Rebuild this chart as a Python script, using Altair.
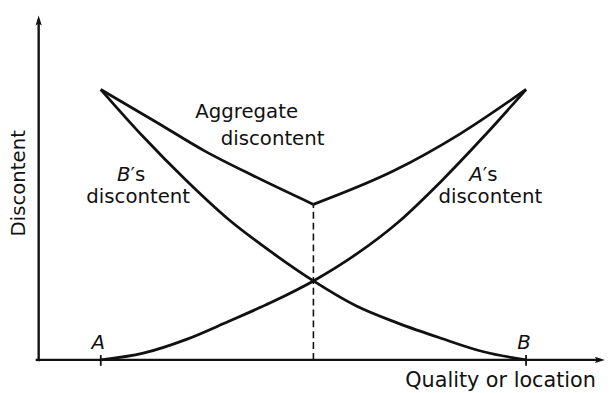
import altair as alt
import pandas as pd

# ---- data; quality axis: A = 0, B = 10; discontent: top = 10
q_pts = [0, 1, 2, 3, 4, 5, 6, 7, 8, 9, 10]
a_disc = [0, 0.25, 0.75, 1.42, 2.12, 2.92, 3.9, 5.1, 6.6, 8.25, 10]
b_disc = [10, 8.25, 6.65, 5.2, 4.0, 2.92, 2.0, 1.35, 0.8, 0.3, 0]

agg_q = [0, 1.3, 2.45, 3.6, 5, 5, 6.9, 8.45, 10]
agg_v = [10, 8.8, 7.72, 6.8, 5.75, 5.75, 7.0, 8.36, 10]
agg_seg = ["left", "left", "left", "left", "left", "right", "right", "right", "right"]

mid_q = 5
mid_v = 5.75

tick_labels = ["A", "B"]
tick_q = [0, 10]

# axis extents (data units)
y_axis_q = -1.46
y_axis_top = 12.6
x_axis_end = 11.75

X_DOM = [-2.181, 11.903]
Y_DOM = [-1.131, 12.92]
FONT = "DejaVu Sans"
INK = "#111111"

xs = alt.Scale(domain=X_DOM, nice=False, zero=False)
ys = alt.Scale(domain=Y_DOM, nice=False, zero=False)


def X(f="q"):
    return alt.X(f"{f}:Q", scale=xs, axis=None)


def Y(f="v"):
    return alt.Y(f"{f}:Q", scale=ys, axis=None)


curves = pd.DataFrame(
    {"q": q_pts * 2, "v": a_disc + b_disc, "s": ["A"] * len(q_pts) + ["B"] * len(q_pts)}
)
curve_layer = alt.Chart(curves).mark_line(
    color=INK, strokeWidth=2.8, interpolate="monotone"
).encode(x=X(), y=Y(), detail="s:N")

agg = pd.DataFrame({"q": agg_q, "v": agg_v, "seg": agg_seg})
agg_layer = alt.Chart(agg).mark_line(
    color=INK, strokeWidth=2.8, interpolate="monotone"
).encode(x=X(), y=Y(), detail="seg:N")

dash = alt.Chart(pd.DataFrame({"q": [mid_q], "v0": [0], "v1": [mid_v]})).mark_rule(
    color=INK, strokeWidth=1.6, strokeDash=[7, 4]
).encode(x=X(), y=Y("v0"), y2="v1:Q")

axes_df = pd.DataFrame(
    {"q0": [y_axis_q, y_axis_q - 0.07], "q1": [y_axis_q, x_axis_end],
     "v0": [-0.05, 0], "v1": [y_axis_top, 0]}
)
axes_layer = alt.Chart(axes_df).mark_rule(color=INK, strokeWidth=2.4).encode(
    x=X("q0"), x2="q1:Q", y=Y("v0"), y2="v1:Q"
)

ticks_df = pd.DataFrame({"q": tick_q, "v0": [-0.22] * 2, "v1": [0.18] * 2})
ticks_layer = alt.Chart(ticks_df).mark_rule(color=INK, strokeWidth=1.8).encode(
    x=X(), y=Y("v0"), y2="v1:Q"
)

arrow_up = alt.Chart(pd.DataFrame({"q": [y_axis_q], "v": [12.48]})).mark_point(
    shape="M0,-1 L0.45,0.45 L0,0.15 L-0.45,0.45 Z", size=196, filled=True,
    color=INK, opacity=1
).encode(x=X(), y=Y())

arrow_right = alt.Chart(pd.DataFrame({"q": [11.69], "v": [0]})).mark_point(
    shape="M1,0 L-0.45,0.45 L-0.15,0 L-0.45,-0.45 Z", size=196, filled=True,
    color=INK, opacity=1
).encode(x=X(), y=Y())

labels = pd.DataFrame(
    {
        "q": [3.43, 4.04, 0.88, 9.16],
        "v": [9.16, 8.18, 6.02, 6.02],
        "t": ["Aggregate", "discontent", "discontent", "discontent"],
    }
)
label_layer = alt.Chart(labels).mark_text(
    font=FONT, fontSize=20, color=INK, baseline="middle", align="center"
).encode(x=X(), y=Y(), text="t:N")

xtitle = alt.Chart(pd.DataFrame({"q": [9.40], "v": [-0.80], "t": ["Quality or location"]})).mark_text(
    font=FONT, fontSize=21, color=INK, baseline="middle", align="center"
).encode(x=X(), y=Y(), text="t:N")

ital = pd.DataFrame(
    {"q": [0.70, 8.98, -0.06, 9.95], "v": [6.82, 6.82, 0.62, 0.62],
     "t": ["B", "A", "A", "B"], "al": ["r", "r", "c", "c"]}
)
ital_r = alt.Chart(ital[ital.al == "r"]).mark_text(
    font=FONT, fontSize=20, fontStyle="italic", color=INK, baseline="middle", align="right"
).encode(x=X(), y=Y(), text="t:N")
ital_c = alt.Chart(ital[ital.al == "c"]).mark_text(
    font=FONT, fontSize=20, fontStyle="italic", color=INK, baseline="middle", align="center"
).encode(x=X(), y=Y(), text="t:N")

poss = pd.DataFrame({"q": [0.70, 8.98], "v": [6.82, 6.82], "t": ["\u2032s", "\u2032s"]})
poss_layer = alt.Chart(poss).mark_text(
    font=FONT, fontSize=20, color=INK, baseline="middle", align="left"
).encode(x=X(), y=Y(), text="t:N")

ytitle = alt.Chart(pd.DataFrame({"q": [-1.91], "v": [6.53], "t": ["Discontent"]})).mark_text(
    font=FONT, fontSize=20, color=INK, baseline="middle", align="center", angle=270
).encode(x=X(), y=Y(), text="t:N")

chart = alt.layer(
    axes_layer, ticks_layer, arrow_up, arrow_right, dash, curve_layer, agg_layer,
    label_layer, xtitle, ital_r, ital_c, poss_layer, ytitle
).properties(
    width=607, height=385, autosize=alt.AutoSizeParams(type="none"), padding=0,
    background="white"
).configure_view(stroke=None)

chart.save("out.html", embed_options={"renderer": "svg", "actions": False})
